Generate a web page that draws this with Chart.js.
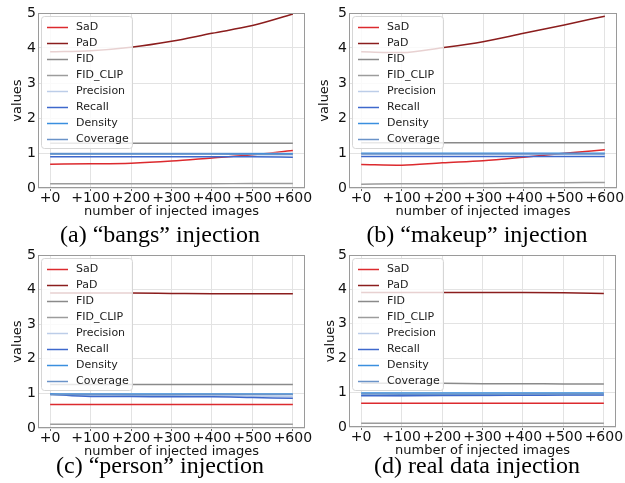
<!DOCTYPE html>
<html>
<head>
<meta charset="utf-8">
<script src="https://cdn.jsdelivr.net/npm/chart.js@4"></script>
<style>
  body { margin: 0; background: #fff; }
  #page { position: relative; width: 625px; height: 483px; overflow: hidden; }
  canvas { position: absolute; }
  .cap {
    position: absolute; width: 320px; text-align: center; white-space: nowrap;
    font-family: 'Liberation Serif', 'Times New Roman', serif; font-size: 24px; line-height: 24px; color: #000;
  }
</style>
</head>
<body>
<div id="page">
  <canvas id="bangs" width="330" height="222" style="left:0;top:0"></canvas>
  <canvas id="makeup" width="315" height="222" style="left:310px;top:0"></canvas>
  <canvas id="person" width="330" height="243" style="left:0;top:240px"></canvas>
  <canvas id="real" width="315" height="243" style="left:310px;top:240px"></canvas>
  <div class="cap" style="left:0;top:222px">(a) “bangs” injection</div>
  <div class="cap" style="left:317px;top:222px">(b) “makeup” injection</div>
  <div class="cap" style="left:0;top:453px">(c) “person” injection</div>
  <div class="cap" style="left:317px;top:453px">(d) real data injection</div>
</div>
<script>
const injected = [0, 100, 200, 300, 400, 500, 600];
const metrics = ['SaD', 'PaD', 'FID', 'FID_CLIP', 'Precision', 'Recall', 'Density', 'Coverage'];
const colors = ['#dc2a2e', '#8b1d1d', '#8a8a8a', '#9c9c9c', '#bccde8', '#3e68cc', '#3a8fdf', '#6a93c8'];

// (a) "bangs" injection
const bangsSaD = [0.68, 0.69, 0.71, 0.77, 0.86, 0.95, 1.07];
const bangsPaD = [3.89, 3.92, 4.02, 4.19, 4.42, 4.64, 4.97];
const bangsFID = [1.28, 1.28, 1.28, 1.28, 1.28, 1.28, 1.28];
const bangsFIDCLIP = [0.12, 0.12, 0.12, 0.12, 0.12, 0.13, 0.13];
const bangsPrecision = [0.99, 0.99, 0.99, 0.99, 0.99, 0.99, 0.99];
const bangsRecall = [0.89, 0.89, 0.89, 0.89, 0.89, 0.89, 0.88];
const bangsDensity = [0.98, 0.98, 0.98, 0.98, 0.98, 0.98, 0.98];
const bangsCoverage = [0.97, 0.97, 0.97, 0.97, 0.97, 0.96, 0.96];

// (b) "makeup" injection
const makeupSaD = [0.67, 0.65, 0.72, 0.78, 0.88, 0.99, 1.09];
const makeupPaD = [3.89, 3.87, 4.01, 4.18, 4.42, 4.66, 4.91];
const makeupFID = [1.29, 1.29, 1.29, 1.29, 1.29, 1.29, 1.29];
const makeupFIDCLIP = [0.11, 0.12, 0.12, 0.13, 0.14, 0.15, 0.16];
const makeupPrecision = [0.98, 0.98, 0.98, 0.98, 0.98, 0.98, 0.98];
const makeupRecall = [0.90, 0.90, 0.90, 0.90, 0.90, 0.90, 0.90];
const makeupDensity = [0.99, 0.99, 0.99, 0.99, 0.99, 0.99, 0.99];
const makeupCoverage = [0.97, 0.97, 0.97, 0.97, 0.97, 0.97, 0.97];

// (c) "person" injection
const personSaD = [0.68, 0.68, 0.68, 0.68, 0.68, 0.68, 0.68];
const personPaD = [3.90, 3.90, 3.90, 3.89, 3.88, 3.88, 3.88];
const personFID = [1.26, 1.26, 1.26, 1.26, 1.26, 1.26, 1.26];
const personFIDCLIP = [0.11, 0.11, 0.11, 0.11, 0.11, 0.11, 0.11];
const personPrecision = [0.95, 0.94, 0.94, 0.93, 0.93, 0.92, 0.91];
const personRecall = [0.98, 0.91, 0.91, 0.90, 0.90, 0.88, 0.86];
const personDensity = [0.98, 0.98, 0.98, 0.98, 0.98, 0.98, 0.98];
const personCoverage = [0.97, 0.97, 0.96, 0.96, 0.97, 0.97, 0.97];

// (d) real data injection
const realSaD = [0.69, 0.69, 0.69, 0.69, 0.69, 0.69, 0.69];
const realPaD = [3.91, 3.91, 3.91, 3.91, 3.91, 3.90, 3.88];
const realFID = [1.27, 1.27, 1.27, 1.26, 1.26, 1.25, 1.25];
const realFIDCLIP = [0.11, 0.11, 0.11, 0.11, 0.11, 0.11, 0.11];
const realPrecision = [0.93, 0.91, 0.90, 0.91, 0.93, 0.93, 0.93];
const realRecall = [0.91, 0.91, 0.92, 0.92, 0.92, 0.93, 0.93];
const realDensity = [0.99, 0.99, 0.99, 0.99, 0.99, 0.99, 0.99];
const realCoverage = [0.96, 0.95, 0.95, 0.95, 0.96, 0.96, 0.96];

const yTicks = [0, 1, 2, 3, 4, 5];

// frame around the plot area + matplotlib-style legend box
const frameAndLegend = {
  id: 'frameAndLegend',
  afterDatasetsDraw(chart) {
    const { ctx, chartArea: a } = chart;
    ctx.save();
    ctx.strokeStyle = '#9a9a9a';
    ctx.lineWidth = 1;
    ctx.strokeRect(Math.round(a.left) + 0.5, Math.round(a.top) + 0.5,
      Math.round(a.right - a.left) - 1, Math.round(a.bottom - a.top) - 1);

    const bx = a.left + 3, by = a.top + 3, bw = 91, bh = 132;
    ctx.beginPath();
    ctx.roundRect(bx + 0.5, by + 0.5, bw, bh, 3);
    ctx.fillStyle = 'rgba(255,255,255,0.8)';
    ctx.fill();
    ctx.strokeStyle = '#d6d6d6';
    ctx.stroke();

    ctx.font = '11px "DejaVu Sans"';
    ctx.textBaseline = 'middle';
    ctx.fillStyle = '#222';
    chart.data.datasets.forEach((ds, i) => {
      const y = a.top + 14.5 + 16 * i;
      ctx.beginPath();
      ctx.moveTo(a.left + 9, y);
      ctx.lineTo(a.left + 30, y);
      ctx.strokeStyle = ds.borderColor;
      ctx.lineWidth = 1.5;
      ctx.stroke();
      ctx.fillText(ds.label, a.left + 38, y);
    });
    ctx.restore();
  }
};

function makeChart(id, series, area, titleX) {
  const canvas = document.getElementById(id);
  const W = canvas.width, H = canvas.height;
  const padLeft = titleX - 7.8;
  const xAxisH = 31;
  return new Chart(canvas, {
    type: 'line',
    data: {
      datasets: series.map((vals, i) => ({
        label: metrics[i],
        data: vals.map((v, j) => ({ x: injected[j], y: v })),
        borderColor: colors[i],
        borderWidth: 1.5,
        pointRadius: 0,
        cubicInterpolationMode: 'monotone',
        order: series.length - i
      }))
    },
    options: {
      responsive: false,
      animation: false,
      layout: { padding: { left: padLeft, top: area[1], right: W - area[2], bottom: H - area[3] - xAxisH } },
      plugins: { legend: { display: false }, tooltip: { enabled: false } },
      scales: {
        x: {
          type: 'linear',
          min: -30, max: 630,
          afterBuildTicks: s => { s.ticks = injected.map(v => ({ value: v })); },
          afterFit: s => { s.height = xAxisH; s.paddingLeft = 0; s.paddingRight = 0; },
          grid: { color: '#e3e3e3', tickColor: '#666', tickLength: 3, drawTicks: true },
          border: { display: false },
          ticks: { callback: v => '+' + v, padding: 0, color: '#111', maxRotation: 0,
                   font: { family: 'DejaVu Sans', size: 14, lineHeight: 1 } },
          title: { display: true, text: 'number of injected images', color: '#111', padding: 0,
                   font: { family: 'DejaVu Sans', size: 13, lineHeight: 1.2 } }
        },
        y: {
          min: 0, max: 5,
          afterBuildTicks: s => { s.ticks = yTicks.map(v => ({ value: v })); },
          afterFit: s => { s.width = area[0] - padLeft; s.paddingTop = 0; s.paddingBottom = 0; },
          grid: { color: '#e3e3e3', drawTicks: false },
          border: { display: false },
          ticks: { padding: 2, color: '#111', font: { family: 'DejaVu Sans', size: 14, lineHeight: 1 } },
          title: { display: true, text: 'values', color: '#111', padding: 0,
                   font: { family: 'DejaVu Sans', size: 13, lineHeight: 1.2 } }
        }
      }
    },
    plugins: [frameAndLegend]
  });
}

makeChart('bangs', [bangsSaD, bangsPaD, bangsFID, bangsFIDCLIP, bangsPrecision, bangsRecall, bangsDensity, bangsCoverage],
  [38, 13, 305, 188], 18);
makeChart('makeup', [makeupSaD, makeupPaD, makeupFID, makeupFIDCLIP, makeupPrecision, makeupRecall, makeupDensity, makeupCoverage],
  [39, 13, 307, 188], 15);
makeChart('person', [personSaD, personPaD, personFID, personFIDCLIP, personPrecision, personRecall, personDensity, personCoverage],
  [38, 15, 305, 188], 18);
makeChart('real', [realSaD, realPaD, realFID, realFIDCLIP, realPrecision, realRecall, realDensity, realCoverage],
  [39, 15, 306, 187], 21);
</script>
</body>
</html>
